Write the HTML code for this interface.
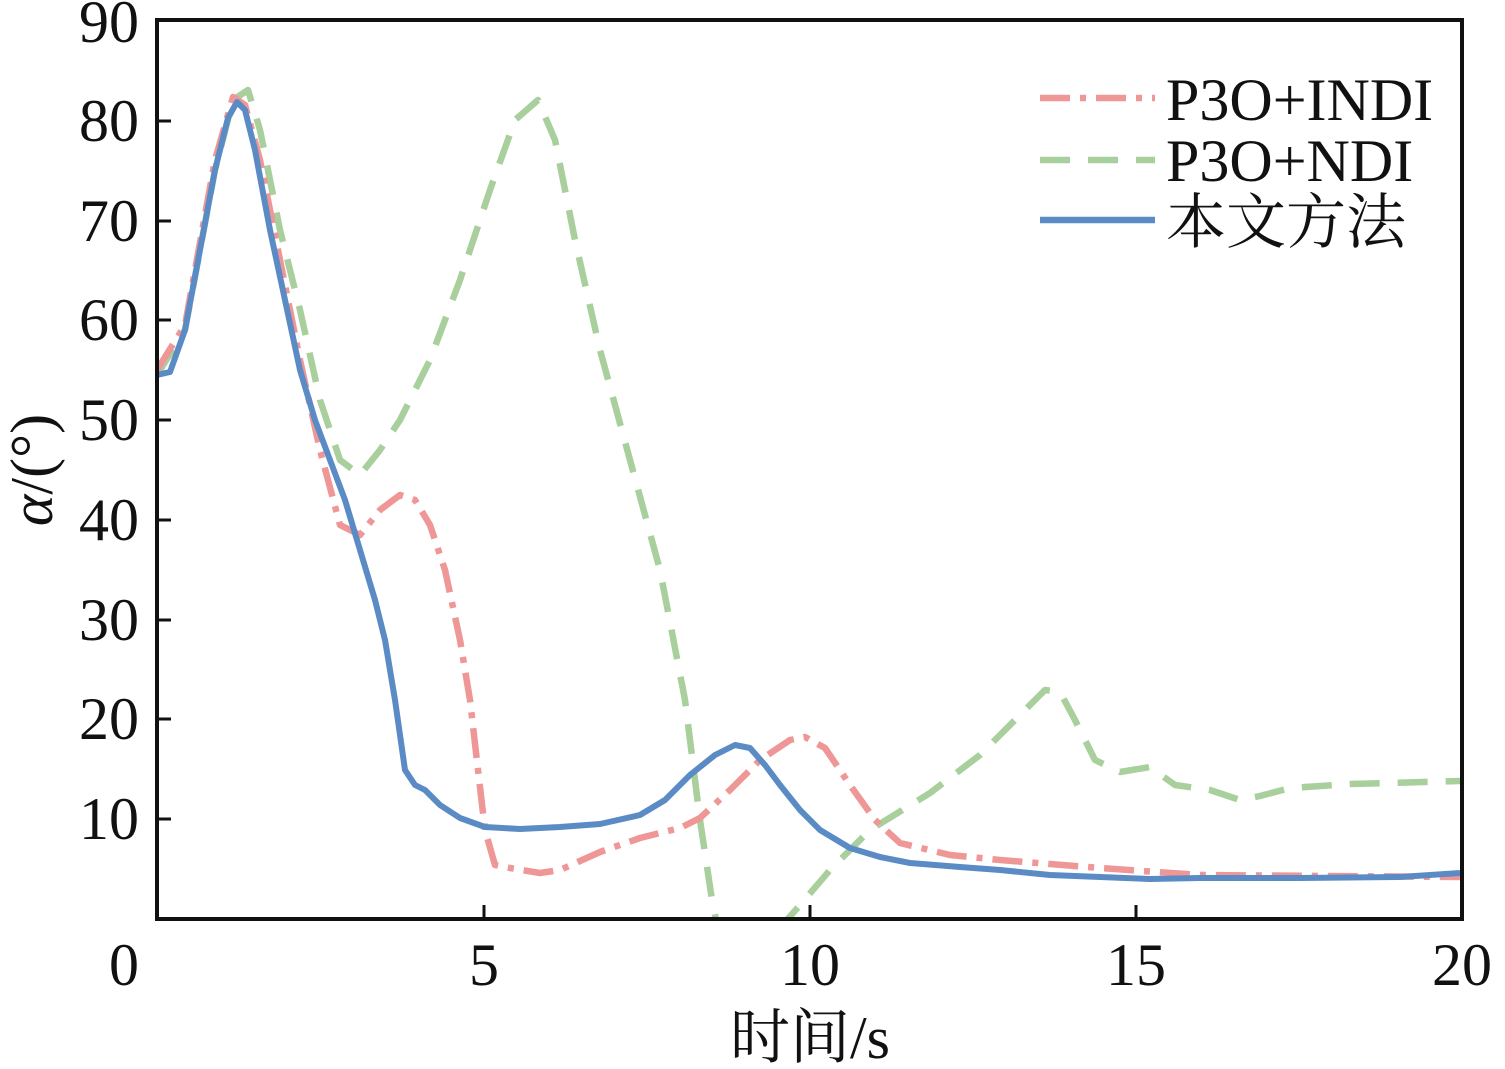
<!DOCTYPE html>
<html><head><meta charset="utf-8"><style>
html,body{margin:0;padding:0;background:#fff;}
svg text{font-family:"Liberation Serif","Noto Serif CJK SC",serif;fill:#111;}
</style></head><body>
<svg width="1505" height="1064" viewBox="0 0 1505 1064" xmlns="http://www.w3.org/2000/svg">
<defs><clipPath id="c"><rect x="157" y="20" width="1305" height="899"/></clipPath></defs>
<g clip-path="url(#c)" fill="none" stroke-linejoin="round" stroke-linecap="butt">
<polyline stroke="#a8cf9c" stroke-width="6.5" stroke-dasharray="30,18" points="157,375 185,330 215,170 233,100 248,90 260,130 280,230 300,310 320,400 340,460 360,475 380,450 400,420 430,360 460,280 490,190 515,120 538,100 555,140 575,240 600,350 630,460 660,570 685,700 700,820 712,900 718,930"/>
<polyline stroke="#a8cf9c" stroke-width="6.5" stroke-dasharray="30,18" points="778,930 800,905 830,870 870,830 930,793 980,755 1020,715 1045,690 1060,692 1075,720 1095,760 1120,772 1150,767 1175,785 1210,790 1240,800 1260,796 1290,788 1350,784 1460,781"/>
<polyline stroke="#ef9696" stroke-width="6.5" stroke-dasharray="30,10,6,10" points="157,370 185,325 215,160 233,97 245,105 260,160 280,260 300,360 320,450 340,525 360,535 380,510 400,495 415,500 430,525 445,570 460,640 470,700 478,770 485,830 495,865 510,868 540,873 560,870 600,852 640,838 680,828 700,818 730,790 760,760 790,740 805,737 825,748 850,785 875,820 900,843 950,855 1000,860 1100,868 1200,875 1460,877"/>
<polyline stroke="#5b8bc5" stroke-width="6" points="157,375 170,372 185,330 200,250 215,170 228,118 237,102 245,110 255,150 270,230 285,300 300,370 315,420 330,460 345,500 360,550 375,600 385,640 395,700 405,770 415,785 425,790 440,805 460,818 485,827 520,829 560,827 600,824 640,815 665,800 690,775 715,755 735,745 750,748 765,765 780,785 800,810 820,830 850,848 880,857 910,863 960,867 1000,870 1050,875 1100,877 1150,879 1200,878 1300,878 1400,877 1460,873"/>
</g>
<rect x="157" y="20" width="1305" height="899" fill="none" stroke="#111" stroke-width="4"/>
<g stroke="#111" stroke-width="3">
<line x1="484" y1="919" x2="484" y2="905"/><line x1="810" y1="919" x2="810" y2="905"/><line x1="1136" y1="919" x2="1136" y2="905"/>
<line x1="157" y1="819" x2="171" y2="819"/><line x1="157" y1="719" x2="171" y2="719"/><line x1="157" y1="620" x2="171" y2="620"/><line x1="157" y1="520" x2="171" y2="520"/><line x1="157" y1="420" x2="171" y2="420"/><line x1="157" y1="320" x2="171" y2="320"/><line x1="157" y1="221" x2="171" y2="221"/><line x1="157" y1="121" x2="171" y2="121"/>
</g>
<g font-size="60" text-anchor="end">
<text x="139" y="839">10</text><text x="139" y="739">20</text><text x="139" y="640">30</text><text x="139" y="540">40</text><text x="139" y="440">50</text><text x="139" y="340">60</text><text x="139" y="241">70</text><text x="139" y="141">80</text><text x="139" y="42">90</text>
</g>
<g font-size="60" text-anchor="middle">
<text x="124" y="985">0</text><text x="484" y="985">5</text><text x="810" y="985">10</text><text x="1136" y="985">15</text><text x="1462" y="985">20</text>
<text x="810" y="1058">时间/s</text>
</g>
<text font-size="60" transform="translate(52,470) rotate(-90)" text-anchor="middle"><tspan font-style="italic">α</tspan>/(°)</text>
<line x1="1040" y1="98" x2="1155" y2="98" stroke="#ef9696" stroke-width="6.5" stroke-dasharray="30,10,6,10"/>
<line x1="1040" y1="160" x2="1155" y2="160" stroke="#a8cf9c" stroke-width="6.5" stroke-dasharray="30,18"/>
<line x1="1040" y1="220" x2="1155" y2="220" stroke="#5b8bc5" stroke-width="6.5"/>
<g font-size="60"><text x="1166" y="120">P3O+INDI</text><text x="1166" y="181">P3O+NDI</text><text x="1166" y="243">本文方法</text></g>
</svg>
</body></html>
